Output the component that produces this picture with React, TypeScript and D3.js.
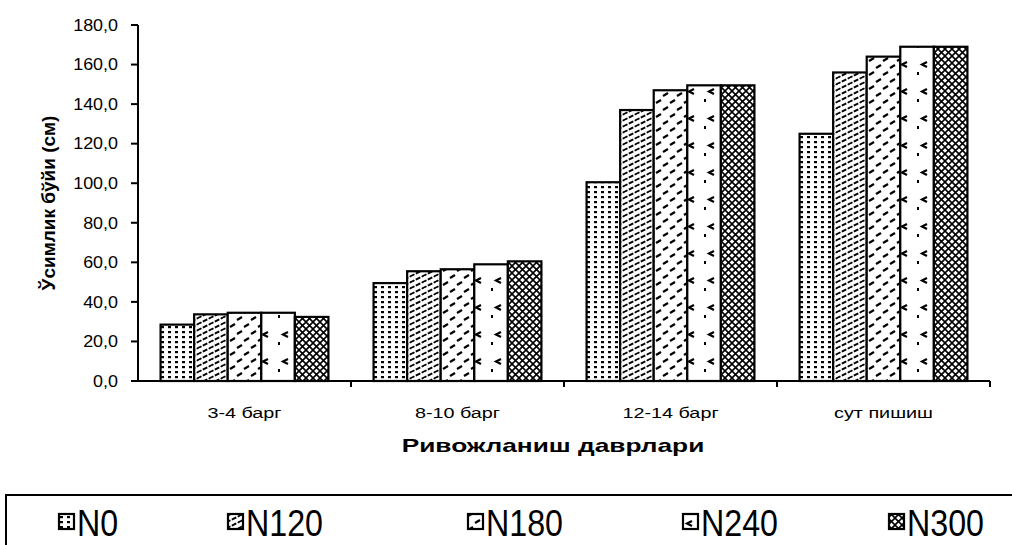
import React from "react";
import * as d3 from "d3";

const categories = ["3-4 барг", "8-10 барг", "12-14 барг", "сут пишиш"];
const seriesNames = ["N0", "N120", "N180", "N240", "N300"];
const valuesN0 = [28.5, 49.5, 100.5, 125.0];
const valuesN120 = [33.7, 55.5, 137.0, 156.0];
const valuesN180 = [34.5, 56.5, 147.0, 164.0];
const valuesN240 = [34.5, 59.0, 149.5, 169.0];
const valuesN300 = [32.4, 60.5, 149.5, 169.0];
const yTicks = [0, 20, 40, 60, 80, 100, 120, 140, 160, 180];

const seriesValues = [valuesN0, valuesN120, valuesN180, valuesN240, valuesN300];

const FONT = "'Liberation Sans', Arial, sans-serif";

export default function App() {
  const W = 1012, H = 545;
  const left = 138, right = 990, top = 25, bottom = 381;

  const y = d3.scaleLinear().domain([0, 180]).range([bottom, top]);
  const x0 = d3.scaleBand<string>().domain(categories).range([left, right]).padding(0);
  const bw = x0.bandwidth();
  const x1 = d3.scaleBand<string>().domain(seriesNames).range([bw * 0.106, bw * 0.894]).padding(0);

  const fmt = (v: number) => d3.format(".1f")(v).replace(".", ",");

  const patIds = ["pN0", "pN120", "pN180", "pN240", "pN300"];

  return (
    <svg width={W} height={H} style={{ position: "absolute", left: 0, top: 0, background: "#fff" }}>
      <defs>
        <pattern id="pN0" patternUnits="userSpaceOnUse" width="7" height="5">
          <rect width="7" height="5" fill="#fff" />
          <rect x="2" y="1" width="3" height="2.2" fill="#000" />
        </pattern>
        <pattern id="pN120" patternUnits="userSpaceOnUse" width="12" height="6">
          <rect width="12" height="6" fill="#fff" />
          <path d="M-12,6.5 L1,-0.5 M-1,6.5 L13,-0.5 M11,6.5 L25,-0.5" stroke="#000" strokeWidth="1.9" strokeDasharray="5 1.5" />
        </pattern>
        <pattern id="pN180" patternUnits="userSpaceOnUse" width="14" height="14">
          <rect width="14" height="14" fill="#fff" />
          <path d="M1,12 L6,9" stroke="#000" strokeWidth="2.2" />
          <path d="M8,5 L13,2" stroke="#000" strokeWidth="2.2" />
        </pattern>
        <pattern id="pN240" patternUnits="userSpaceOnUse" width="20" height="27">
          <rect width="20" height="27" fill="#fff" />
          <path d="M10,8 L5,10.5 L10,13" stroke="#000" strokeWidth="2.2" fill="none" />
          <rect x="0" y="18" width="2" height="3" fill="#000" />
        </pattern>
        <pattern id="pN300" patternUnits="userSpaceOnUse" width="7" height="7">
          <rect width="7" height="7" fill="#fff" />
          <path d="M0,0 L7,7 M7,0 L0,7" stroke="#000" strokeWidth="1.6" />
        </pattern>
      </defs>

      {/* bars */}
      {categories.map((c, ci) => (
        <g key={c} transform={`translate(${x0(c)},0)`}>
          {seriesNames.map((s, si) => {
            const v = seriesValues[si][ci];
            return (
              <rect
                key={s}
                x={x1(s)}
                y={y(v)}
                width={x1.bandwidth()}
                height={bottom - y(v)}
                fill={`url(#${patIds[si]})`}
                stroke="#000"
                strokeWidth={2.2}
              />
            );
          })}
        </g>
      ))}

      {/* y axis */}
      <line x1={left} x2={left} y1={top} y2={bottom} stroke="#000" strokeWidth={2} />
      {yTicks.map((t) => (
        <g key={t}>
          <line x1={left - 7} x2={left} y1={y(t)} y2={y(t)} stroke="#000" strokeWidth={2} />
          <text
            transform={`translate(${left - 20},${y(t)}) scale(1.12,1)`}
            dy="0.36em"
            textAnchor="end"
            fontFamily={FONT}
            fontSize={16}
            fill="#000"
          >
            {fmt(t)}
          </text>
        </g>
      ))}

      {/* x axis */}
      <line x1={left} x2={right} y1={bottom} y2={bottom} stroke="#000" strokeWidth={2} />
      {categories.map((c) => (
        <line key={c} x1={(x0(c) as number) + bw} x2={(x0(c) as number) + bw} y1={bottom} y2={bottom + 6} stroke="#000" strokeWidth={2} />
      ))}
      {categories.map((c) => (
        <text
          key={c}
          transform={`translate(${(x0(c) as number) + bw / 2},${413}) scale(1.32,1)`}
          dy="0.35em"
          textAnchor="middle"
          fontFamily={FONT}
          fontSize={15}
          fill="#000"
        >
          {c}
        </text>
      ))}

      {/* axis titles */}
      <text
        transform={`translate(553,446) scale(1.46,1)`}
        dy="0.35em"
        textAnchor="middle"
        fontFamily={FONT}
        fontSize={18}
        fontWeight="bold"
        fill="#000"
      >
        Ривожланиш даврлари
      </text>
      <text
        transform={`translate(48,203) rotate(-90)`}
        textAnchor="middle"
        dy="0.35em"
        fontFamily={"'Liberation Sans Narrow', " + FONT}
        fontSize={19}
        fontWeight="bold"
        fill="#000"
      >
        Ўсимлик бўйи (см)
      </text>

      {/* legend */}
      <rect x={6} y={495} width={1100} height={100} fill="none" stroke="#000" strokeWidth={2} />
      {seriesNames.map((s, i) => {
        const xs = [58, 227, 467, 682, 888];
        return (
          <g key={s} transform={`translate(${xs[i]},0)`}>
            <rect x={1} y={514} width={15} height={15} fill={`url(#${patIds[i]})`} stroke="#000" strokeWidth={2.2} />
            <text
              transform={`translate(19,536) scale(0.92,1.08)`}
              fontFamily={FONT}
              fontSize={35}
              fill="#000"
            >
              {s}
            </text>
          </g>
        );
      })}
    </svg>
  );
}
